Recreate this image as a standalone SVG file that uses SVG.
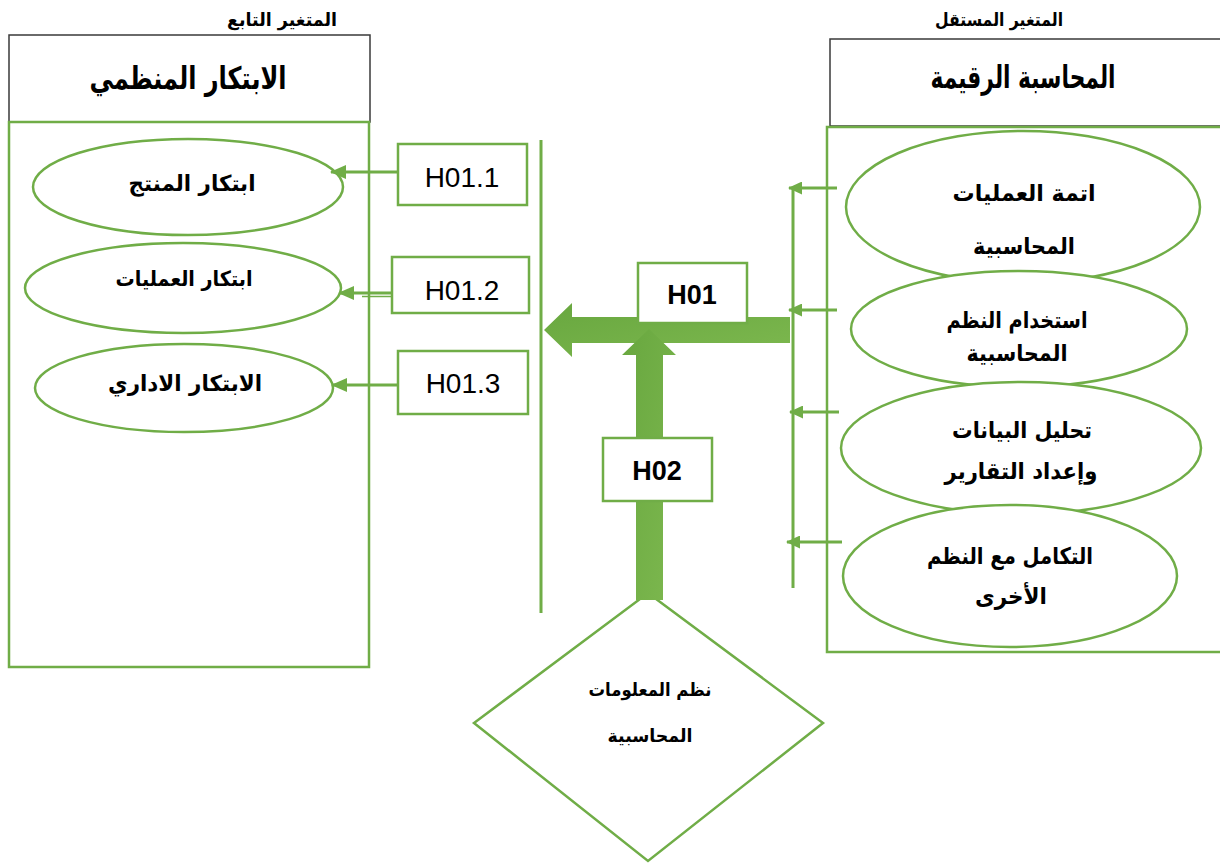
<svg xmlns="http://www.w3.org/2000/svg" width="1220" height="863" viewBox="0 0 1220 863">
<defs>
<style>
.hdr{fill:#fff;stroke:#3a3a3a;stroke-width:1.5}
.gbox{fill:none;stroke:#70AD47;stroke-width:2.5}
.ell{fill:#fff;stroke:#70AD47;stroke-width:2.5}
.hbox{fill:#fff;stroke:#70AD47;stroke-width:2.5}
.con{stroke:#70AD47;stroke-width:3;fill:none}
.ar{font-family:"DejaVu Sans",sans-serif;font-weight:bold;fill:#000;text-anchor:middle}
.hl{font-family:"Liberation Sans",Arial,sans-serif;fill:#000;text-anchor:middle;font-size:28px}
.hb{font-family:"Liberation Sans",Arial,sans-serif;font-weight:bold;fill:#000;text-anchor:middle;font-size:27px}
</style>
<marker id="ah" markerUnits="userSpaceOnUse" markerWidth="16" markerHeight="14" refX="15" refY="7" orient="auto">
<path d="M0,0 L16,7 L0,14 z" fill="#70AD47"/>
</marker>
<marker id="ahs" markerUnits="userSpaceOnUse" markerWidth="14" markerHeight="13" refX="13" refY="6.5" orient="auto">
<path d="M0,0 L14,6.5 L0,13 z" fill="#70AD47"/>
</marker>
<linearGradient id="gg" x1="0" y1="0" x2="1" y2="1">
<stop offset="0" stop-color="#68A73F"/>
<stop offset="1" stop-color="#7DB84F"/>
</linearGradient>
</defs>

<g id="dependent-variable">
<text class="ar" x="282" y="26" font-size="18" textLength="110" lengthAdjust="spacingAndGlyphs">المتغير التابع</text>
<rect class="hdr" x="9" y="35" width="361" height="87"/>
<text class="ar" x="188" y="89" font-size="31" textLength="197" lengthAdjust="spacingAndGlyphs">الابتكار المنظمي</text>
<rect class="gbox" x="9" y="122" width="360" height="545"/>
</g>

<g id="independent-variable">
<text class="ar" x="999" y="26" font-size="18" textLength="128" lengthAdjust="spacingAndGlyphs">المتغير المستقل</text>
<rect class="hdr" x="830" y="39" width="400" height="87"/>
<text class="ar" x="1023" y="88" font-size="31" textLength="185" lengthAdjust="spacingAndGlyphs">المحاسبة الرقيمة</text>
<rect class="gbox" x="827" y="127" width="400" height="525"/>
</g>

<g id="product-innovation">
<ellipse class="ell" cx="188" cy="187" rx="155" ry="48"/>
<text class="ar" x="192" y="191" font-size="22" textLength="127" lengthAdjust="spacingAndGlyphs">ابتكار المنتج</text>
</g>
<g id="process-innovation">
<ellipse class="ell" cx="183" cy="288" rx="158" ry="45"/>
<text class="ar" x="184" y="286" font-size="21" textLength="137" lengthAdjust="spacingAndGlyphs">ابتكار العمليات</text>
</g>
<g id="administrative-innovation">
<ellipse class="ell" cx="184" cy="388" rx="149" ry="44"/>
<text class="ar" x="185" y="391" font-size="22" textLength="154" lengthAdjust="spacingAndGlyphs">الابتكار الاداري</text>
</g>

<g id="automation">
<ellipse class="ell" cx="1023" cy="207" rx="177" ry="76"/>
<text class="ar" x="1024" y="201" font-size="23" textLength="143" lengthAdjust="spacingAndGlyphs">اتمة العمليات</text>
<text class="ar" x="1024" y="254" font-size="23" textLength="102" lengthAdjust="spacingAndGlyphs">المحاسبية</text>
</g>
<g id="systems-use">
<ellipse class="ell" cx="1019" cy="329" rx="168" ry="58"/>
<text class="ar" x="1017" y="328" font-size="23" textLength="141" lengthAdjust="spacingAndGlyphs">استخدام النظم</text>
<text class="ar" x="1017" y="361" font-size="23" textLength="101" lengthAdjust="spacingAndGlyphs">المحاسبية</text>
</g>
<g id="data-analysis">
<ellipse class="ell" cx="1021" cy="448" rx="180" ry="66"/>
<text class="ar" x="1022" y="438" font-size="23" textLength="140" lengthAdjust="spacingAndGlyphs">تحليل البيانات</text>
<text class="ar" x="1021" y="479" font-size="23" textLength="153" lengthAdjust="spacingAndGlyphs">وإعداد التقارير</text>
</g>
<g id="integration">
<ellipse class="ell" cx="1010" cy="576" rx="167" ry="71"/>
<text class="ar" x="1010" y="564" font-size="23" textLength="166" lengthAdjust="spacingAndGlyphs">التكامل مع النظم</text>
<text class="ar" x="1011" y="604" font-size="23" textLength="72" lengthAdjust="spacingAndGlyphs">الأخرى</text>
</g>

<g id="accounting-info-systems">
<polygon points="648,593 823,723 648,861 474,723" fill="#fff" stroke="#70AD47" stroke-width="2.5"/>
<text class="ar" x="650" y="696" font-size="18" textLength="123" lengthAdjust="spacingAndGlyphs">نظم المعلومات</text>
<text class="ar" x="650" y="742" font-size="18" textLength="85" lengthAdjust="spacingAndGlyphs">المحاسبية</text>
</g>

<g id="connectors">
<line class="con" x1="541" y1="140" x2="541" y2="613"/>
<line class="con" x1="793" y1="187" x2="793" y2="588"/>
<line class="con" x1="400" y1="172" x2="331" y2="172" marker-end="url(#ah)"/>
<line class="con" x1="410" y1="293" x2="339" y2="293" marker-end="url(#ah)"/>
<line x1="362" y1="296.5" x2="392" y2="296.5" stroke="#70AD47" stroke-width="1.5"/>
<line class="con" x1="398" y1="385" x2="332" y2="385" marker-end="url(#ah)"/>
<line class="con" x1="837" y1="188" x2="789" y2="188" marker-end="url(#ahs)"/>
<line class="con" x1="837" y1="310" x2="789" y2="310" marker-end="url(#ahs)"/>
<line class="con" x1="839" y1="412" x2="790" y2="412" marker-end="url(#ahs)"/>
<line class="con" x1="842" y1="542" x2="787" y2="542" marker-end="url(#ahs)"/>
<polygon points="790,317 572,317 572,303 544,330 572,357 572,343 790,343" fill="url(#gg)"/>
<polygon points="636,600 636,355 622,355 649,329 676,355 663,355 663,600" fill="url(#gg)"/>
</g>

<g id="h01-1">
<rect class="hbox" x="398" y="144" width="129" height="61"/>
<text class="hl" x="462" y="187">H01.1</text>
</g>
<g id="h01-2">
<rect class="hbox" x="392" y="257" width="137" height="56"/>
<text class="hl" x="462" y="300">H01.2</text>
</g>
<g id="h01-3">
<rect class="hbox" x="398" y="351" width="130" height="63"/>
<text class="hl" x="463" y="393">H01.3</text>
</g>
<g id="h01">
<rect class="hbox" x="638" y="263" width="109" height="60"/>
<text class="hb" x="692" y="304">H01</text>
</g>
<g id="h02">
<rect class="hbox" x="603" y="438" width="109" height="63"/>
<text class="hb" x="657" y="480">H02</text>
</g>
</svg>
